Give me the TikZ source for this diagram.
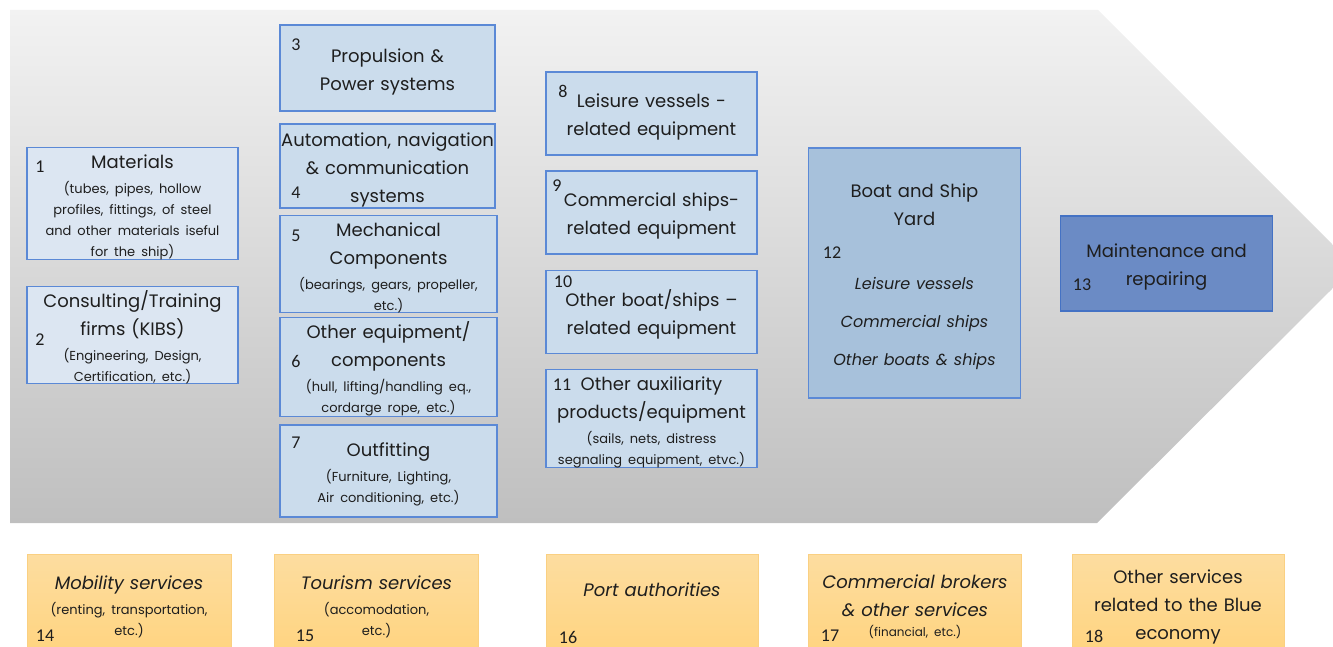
\documentclass[tikz,border=0pt]{standalone}
\usepackage{fontspec}
\setmainfont{Poppins}
\newfontfamily\numfont{Carlito}
\definecolor{arrowtop}{RGB}{242,242,242}
\definecolor{arrowbot}{RGB}{191,191,191}
\definecolor{edgeblue}{RGB}{91,137,214}
\definecolor{paleblue}{RGB}{220,230,242}
\definecolor{partblue}{RGB}{203,220,236}
\definecolor{yardblue}{RGB}{167,193,219}
\definecolor{maintblue}{RGB}{107,139,197}
\definecolor{maintedge}{RGB}{68,114,196}
\definecolor{svctop}{RGB}{253,221,160}
\definecolor{svcbot}{RGB}{255,212,128}
\definecolor{svcline}{RGB}{250,208,130}
\definecolor{ink}{RGB}{30,30,30}
\newcommand{\detail}{\vspace{4pt}\fontsize{13}{21}\selectfont}
\newcommand{\kind}{\itshape\fontsize{16}{38}\selectfont}
\newcommand{\stagebox}[6]{%
 \node[#1, text width=#4, minimum height=#5] (#2) at (#3) {#6\par};%
}
\newcommand{\boxnum}[3]{%
 \node[num] (#1) at (#2) {#3};%
}
\tikzset{
 stage/.style={draw=edgeblue, line width=1.2pt, align=center, inner sep=0pt,
  text=ink, text height=21pt, font=\fontsize{18}{28}\selectfont},
 supply/.style={stage, fill=paleblue},
 part/.style={stage, fill=partblue},
 yard/.style={stage, fill=yardblue},
 maint/.style={stage, fill=maintblue, draw=maintedge},
 service/.style={top color=svctop, bottom color=svcbot, draw=svcline, line width=0.8pt,
  align=center, inner sep=0pt, text=ink, text height=21pt,
  font=\itshape\fontsize{18}{28}\selectfont},
 num/.style={font=\numfont\fontsize{18}{18}\selectfont, text=ink, inner sep=0pt}
}
\begin{document}
\begin{tikzpicture}[x=1pt,y=-1pt]
 \useasboundingbox (0,0) rectangle (1333,647);
 % value chain arrow
 \shade[top color=arrowtop,bottom color=arrowbot] (10,10) -- (1098,10) -- (1333,245)
  -- (1333,288) -- (1097,523) -- (10,523) -- cycle;
 % suppliers
 \stagebox{supply}{b1}{132.5,203.5}{211pt}{111pt}{Materials\par\detail(tubes, pipes, hollow\\profiles, fittings, of steel\\and other materials iseful\\for the ship)}
 \stagebox{supply}{b2}{132.5,335}{211pt}{92pt}{Consulting/Training\\firms (KIBS)\par\detail(Engineering, Design,\\Certification, etc.)}
 % components
 \stagebox{part}{b3}{387.5,68}{215pt}{86pt}{Propulsion \&\\Power systems}
 \stagebox{part}{b4}{387.5,166}{215pt}{84pt}{Automation, navigation\\\& communication\\systems}
 \stagebox{part}{b5}{388.5,264}{217pt}{91pt}{Mechanical\\Components\par\detail(bearings, gears, propeller,\\etc.)}
 \stagebox{part}{b6}{388.5,367}{217pt}{98pt}{Other equipment/\\components\par\detail(hull, lifting/handling eq.,\\cordarge rope, etc.)}
 \stagebox{part}{b7}{388.5,471}{217pt}{92pt}{Outfitting\par\detail(Furniture, Lighting,\\Air conditioning, etc.)}
 % equipment
 \stagebox{part}{b8}{651.5,113.5}{211pt}{83pt}{Leisure vessels -\\related equipment}
 \stagebox{part}{b9}{651.5,212.5}{211pt}{83pt}{Commercial ships-\\related equipment}
 \stagebox{part}{b10}{651.5,312}{211pt}{83pt}{Other boat/ships –\\related equipment}
 \stagebox{part}{b11}{651.5,418.5}{211pt}{97pt}{Other auxiliarity\\products/equipment\par\detail(sails, nets, distress\\segnaling equipment, etvc.)}
 % yard and maintenance
 \stagebox{yard}{b12}{914.5,273}{212pt}{250pt}{Boat and Ship\\Yard\par\kind\vspace{26pt}Leisure vessels\\Commercial ships\\Other boats \& ships}
 \stagebox{maint}{b13}{1166.5,263.5}{212pt}{95pt}{Maintenance and\\repairing}
 % services
 \stagebox{service}{b14}{129,603}{204pt}{98pt}{Mobility services\par\upshape\detail(renting, transportation,\\etc.)}
 \stagebox{service}{b15}{376.5,603}{204pt}{98pt}{Tourism services\par\upshape\detail(accomodation,\\etc.)}
 \stagebox{service}{b16}{652,603}{212pt}{98pt}{Port authorities\\[6pt]\mbox{}}
 \stagebox{service}{b17}{915,603}{213pt}{98pt}{Commercial brokers\\\& other services\par\upshape\fontsize{12}{20}\selectfont(financial, etc.)}
 \stagebox{service}{b18}{1178,603}{212pt}{98pt}{\upshape Other services\\related to the Blue\\economy}
 % numbers
 \boxnum{n1}{40,167}{1}
 \boxnum{n2}{40,340}{2}
 \boxnum{n3}{296,45}{3}
 \boxnum{n4}{296,193}{4}
 \boxnum{n5}{296,236}{5}
 \boxnum{n6}{296,361}{6}
 \boxnum{n7}{296,443}{7}
 \boxnum{n8}{563,91}{8}
 \boxnum{n9}{557,186}{9}
 \boxnum{n10}{563,282}{10}
 \boxnum{n11}{562,385}{11}
 \boxnum{n12}{832,253}{12}
 \boxnum{n13}{1082,285}{13}
 \boxnum{n14}{45,636}{14}
 \boxnum{n15}{305,636}{15}
 \boxnum{n16}{568,637}{16}
 \boxnum{n17}{830,636}{17}
 \boxnum{n18}{1094,636}{18}
\end{tikzpicture}
\end{document}
